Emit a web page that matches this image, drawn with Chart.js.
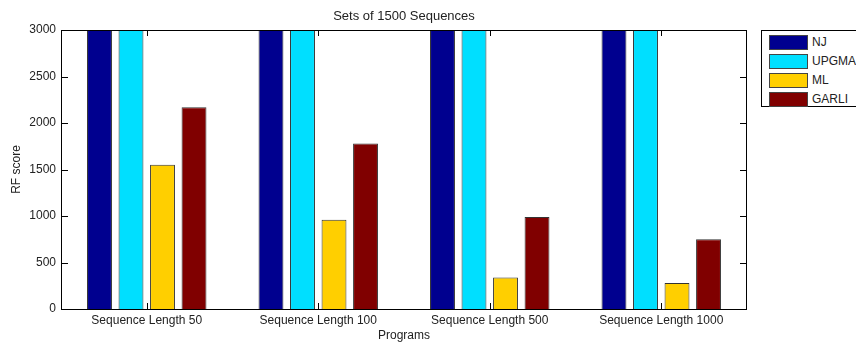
<!DOCTYPE html>
<html>
<head>
<meta charset="utf-8">
<script src="https://cdn.jsdelivr.net/npm/chart.js@4/dist/chart.umd.min.js"></script>
<style>
  body { margin: 0; background: #fff; }
  #wrap { position: relative; width: 856px; height: 345px; }
  #legend { position: absolute; left: 761px; top: 30px; width: 100px; height: 75px;
    border: 1px solid #000; background: #fff; font: 12px "Liberation Sans", Arial, sans-serif; color: #222; }
  .row { position: absolute; left: 7px; height: 14px; }
  .sw { position: absolute; left: 0; top: 0; width: 37px; height: 13px; border: 1px solid #444; }
  .lb { position: absolute; left: 43px; top: 0; line-height: 15px; white-space: nowrap; }
</style>
</head>
<body>
<div id="wrap">
  <canvas id="c" width="856" height="345"></canvas>
  <div id="legend"></div>
</div>
<script>
const categories = ['Sequence Length 50', 'Sequence Length 100', 'Sequence Length 500', 'Sequence Length 1000'];
const seriesNames = ['NJ', 'UPGMA', 'ML', 'GARLI'];
const seriesColors = ['#00008F', '#00DFFF', '#FFCF00', '#800000'];
// NJ and UPGMA run off the top of the axis in the original, shown here at the 3000 limit
const nj = [3000, 3000, 3000, 3000];
const upgma = [3000, 3000, 3000, 3000];
const ml = [1550, 960, 340, 280];
const garli = [2170, 1780, 990, 750];
const yTicks = [0, 500, 1000, 1500, 2000, 2500, 3000];
const seriesValues = [nj, upgma, ml, garli];

const font = { family: '"Liberation Sans", Arial, sans-serif', size: 12 };

// legend box like matlab's
var legend = document.getElementById('legend');
seriesNames.forEach(function(name, i) {
  var row = document.createElement('div');
  row.className = 'row';
  row.style.top = (4 + i * 19) + 'px';
  row.innerHTML = '<div class="sw" style="background:' + seriesColors[i] + '"></div><div class="lb">' + name + '</div>';
  legend.appendChild(row);
});

const boxPlugin = {
  id: 'box',
  afterDraw(chart) {
    const ctx = chart.ctx;
    const a = chart.chartArea;
    const x = chart.scales.x, y = chart.scales.y;
    ctx.save();
    ctx.strokeStyle = '#000';
    ctx.lineWidth = 1;
    ctx.beginPath();
    ctx.rect(a.left + 0.5, a.top + 0.5, a.right - a.left - 1, a.bottom - a.top);
    // inward ticks
    yTicks.forEach(function(v) {
      const py = Math.round(y.getPixelForValue(v)) + 0.5;
      ctx.moveTo(a.left, py); ctx.lineTo(a.left + 7, py);
      ctx.moveTo(a.right, py); ctx.lineTo(a.right - 7, py);
    });
    categories.forEach(function(c, i) {
      const px = Math.round(x.getPixelForValue(i)) + 0.5;
      ctx.moveTo(px, a.bottom); ctx.lineTo(px, a.bottom - 6);
      ctx.moveTo(px, a.top); ctx.lineTo(px, a.top + 6);
    });
    ctx.stroke();
    ctx.fillStyle = '#222';
    ctx.font = '13px "Liberation Sans", Arial, sans-serif';
    ctx.textAlign = 'center';
    ctx.textBaseline = 'middle';
    ctx.fillText('Sets of 1500 Sequences', (a.left + a.right) / 2, 16);
    ctx.restore();
  }
};

new Chart(document.getElementById('c'), {
  type: 'bar',
  data: {
    labels: categories,
    datasets: seriesNames.map(function(name, i) {
      return {
        label: name,
        data: seriesValues[i],
        backgroundColor: seriesColors[i],
        borderColor: '#333',
        borderWidth: 1,
        categoryPercentage: 0.735,
        barPercentage: 0.79,
        clip: 0
      };
    })
  },
  options: {
    responsive: false,
    animation: false,
    layout: { padding: { left: 0, top: 30, right: 109, bottom: 0 } },
    plugins: { legend: { display: false }, tooltip: { enabled: false } },
    scales: {
      x: {
        grid: { display: false, drawTicks: false },
        border: { display: false },
        ticks: { color: '#222', font: font, padding: 4, maxRotation: 0 },
        title: { display: true, text: 'Programs', color: '#222', font: font, padding: { top: 2, bottom: 2 } },
        afterFit(s) { s.height = 36; }
      },
      y: {
        min: 0, max: 3000,
        afterBuildTicks(s) { s.ticks = yTicks.map(function(v) { return { value: v }; }); },
        grid: { display: false, drawTicks: false },
        border: { display: false },
        ticks: { color: '#222', font: font, padding: 5, callback: function(v) { return String(v); } },
        title: { display: true, text: 'RF score', color: '#222', font: font, padding: { top: 9, bottom: 9 } },
        afterFit(s) { s.width = 61; }
      }
    }
  },
  plugins: [boxPlugin]
});
</script>
</body>
</html>
